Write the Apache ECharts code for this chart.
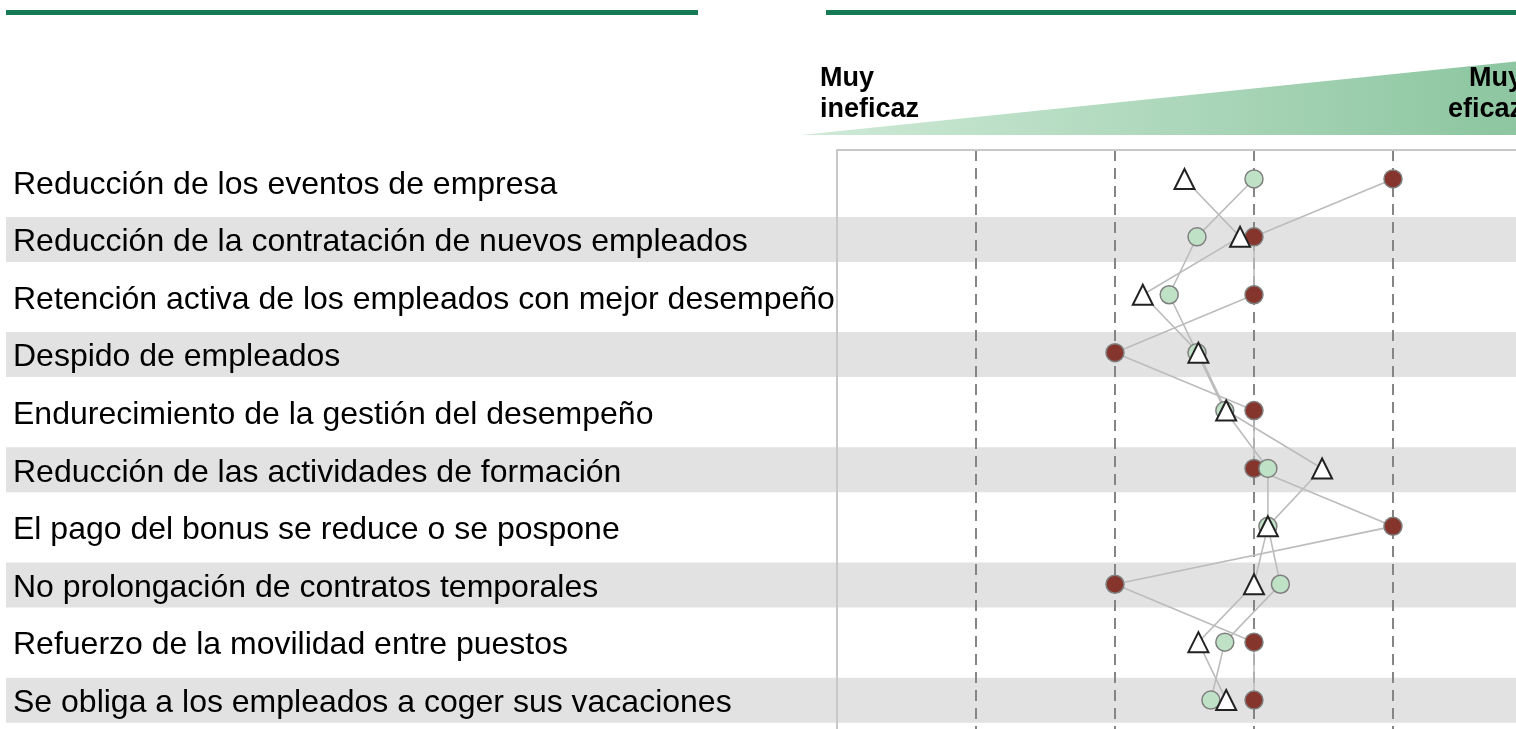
<!DOCTYPE html>
<html>
<head>
<meta charset="utf-8">
<script src="https://cdn.jsdelivr.net/npm/echarts@6/dist/echarts.min.js"></script>
<style>
  html, body { margin: 0; padding: 0; background: #fff; }
  #main { width: 1516px; height: 729px; }
</style>
</head>
<body>
<div id="main"></div>
<script>
// categorias (de arriba a abajo)
var categories = [
  'Reducción de los eventos de empresa',
  'Reducción de la contratación de nuevos empleados',
  'Retención activa de los empleados con mejor desempeño',
  'Despido de empleados',
  'Endurecimiento de la gestión del desempeño',
  'Reducción de las actividades de formación',
  'El pago del bonus se reduce o se pospone',
  'No prolongación de contratos temporales',
  'Refuerzo de la movilidad entre puestos',
  'Se obliga a los empleados a coger sus vacaciones'
];
// valores en la escala 1 (muy ineficaz) .. 6 (muy eficaz), la escala queda cortada a la derecha
var redValues   = [5, 4, 4, 3, 4, 4, 5, 3, 4, 4];
var greenValues = [4.0, 3.59, 3.39, 3.59, 3.79, 4.1, 4.1, 4.19, 3.79, 3.69];
var triValues   = [3.5, 3.9, 3.2, 3.6, 3.8, 4.49, 4.1, 4.0, 3.6, 3.8];
// filas sombreadas
var bandFlags = [0, 1, 0, 1, 0, 1, 0, 1, 0, 1];
var scaleMin = 1, scaleMaxVisible = 5.885;

function pairs(vals) {
  return vals.map(function (v, i) { return [v, categories[i]]; });
}

var myChart = echarts.init(document.getElementById('main'));

var lineStyle = { color: '#bcbcbc', width: 1.6 };

var option = {
  animation: false,
  backgroundColor: '#fff',
  grid: [
    { left: 837, top: 150, right: 0, height: 582 },
    { left: 6, top: 153, right: 0, height: 582 }
  ],
  xAxis: [
    {
      gridIndex: 0, type: 'value', position: 'top', z: 3,
      min: scaleMin, max: scaleMaxVisible, interval: 1,
      axisLine: { show: true, lineStyle: { color: '#c8c8c8', width: 2 } },
      axisTick: { show: false },
      axisLabel: { show: false },
      splitLine: {
        show: true, showMaxLine: false,
        lineStyle: { color: '#858585', width: 2, type: [11, 7] }
      }
    },
    {
      gridIndex: 1, type: 'value', min: 0, max: 1, show: false
    }
  ],
  yAxis: [
    {
      gridIndex: 0, type: 'category', data: categories, inverse: true, z: 3,
      axisLine: { show: true, lineStyle: { color: '#c8c8c8', width: 2 } },
      axisTick: { show: false },
      splitLine: { show: false },
      axisLabel: { show: false }
    },
    {
      gridIndex: 1, type: 'category', data: categories, inverse: true, show: false
    }
  ],
  graphic: [
    { type: 'rect', shape: { x: 6, y: 10, width: 692, height: 5 }, style: { fill: '#177a56' } },
    { type: 'rect', shape: { x: 826, y: 10, width: 700, height: 5 }, style: { fill: '#177a56' } },
    {
      type: 'polygon',
      shape: { points: [[801, 135], [1531, 135], [1531, 60]] },
      style: {
        fill: new echarts.graphic.LinearGradient(0, 0, 1, 0, [
          { offset: 0, color: '#cfead7' },
          { offset: 1, color: '#8bc59f' }
        ])
      }
    },
    {
      type: 'text', x: 820, y: 63,
      style: {
        text: 'Muy\nineficaz', fill: '#000', align: 'left', verticalAlign: 'top',
        font: 'bold 27px "Liberation Sans", Arial, sans-serif', lineHeight: 31
      }
    },
    {
      type: 'text', x: 1523, y: 63,
      style: {
        text: 'Muy\neficaz', fill: '#000', align: 'right', verticalAlign: 'top',
        font: 'bold 27px "Liberation Sans", Arial, sans-serif', lineHeight: 31
      }
    }
  ],
  series: [
    {
      type: 'bar', xAxisIndex: 1, yAxisIndex: 1, z: 1, silent: true,
      data: bandFlags, barWidth: 45,
      itemStyle: { color: '#e2e2e2' }
    },
    {
      // etiquetas de las filas
      type: 'scatter', xAxisIndex: 1, yAxisIndex: 1, z: 3, silent: true,
      data: categories.map(function (c) { return [0, c]; }),
      symbol: 'circle', symbolSize: 0,
      itemStyle: { opacity: 1 },
      label: {
        show: true, position: 'right', distance: 7, offset: [0, 3],
        formatter: function (p) { return p.value[1]; },
        color: '#000', opacity: 1, fontSize: 32, fontFamily: 'Liberation Sans, Arial, sans-serif'
      }
    },
    { type: 'line', data: pairs(redValues), symbol: 'none', z: 4, lineStyle: lineStyle, silent: true },
    { type: 'line', data: pairs(greenValues), symbol: 'none', z: 4, lineStyle: lineStyle, silent: true },
    { type: 'line', data: pairs(triValues), symbol: 'none', z: 4, lineStyle: lineStyle, silent: true },
    {
      name: 'rojo', type: 'scatter', data: pairs(redValues), z: 5,
      symbol: 'circle', symbolSize: 18,
      itemStyle: { color: '#85352b', borderColor: '#7f7f7f', borderWidth: 1.5, opacity: 1 }
    },
    {
      name: 'verde', type: 'scatter', data: pairs(greenValues), z: 6,
      symbol: 'circle', symbolSize: 18,
      itemStyle: { color: '#bfe1c6', borderColor: '#7f7f7f', borderWidth: 1.5, opacity: 1 }
    },
    {
      name: 'triangulo', type: 'scatter', data: pairs(triValues), z: 7,
      symbol: 'triangle', symbolSize: 20,
      itemStyle: { color: '#ffffff', borderColor: '#222222', borderWidth: 2, opacity: 1 }
    }
  ]
};

myChart.setOption(option);
</script>
</body>
</html>
